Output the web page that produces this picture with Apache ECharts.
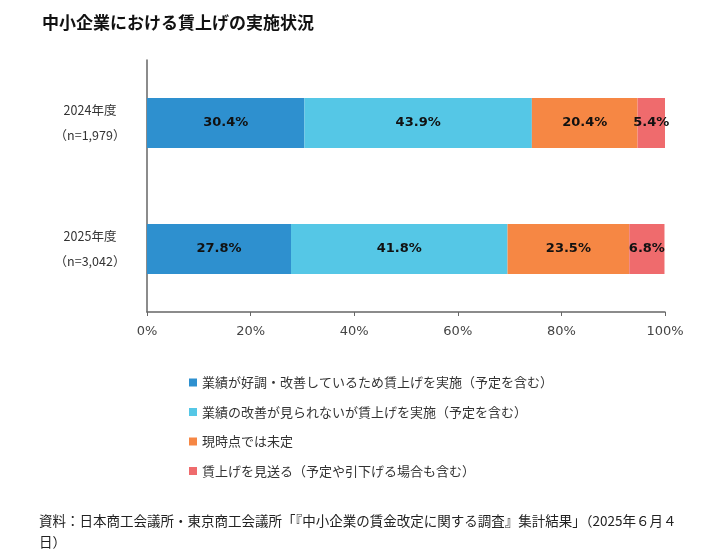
<html>
<head>
<meta charset="utf-8"/>
<title>中小企業における賃上げの実施状況</title>
<script src="https://cdn.jsdelivr.net/npm/echarts@6/dist/echarts.min.js"></script>
<style>
  body { margin: 0; padding: 0; background: #fff; }
  #chart { width: 710px; height: 553px; }
</style>
</head>
<body>
<div id="chart"></div>
<script type="text/javascript">
// 年度（上から順）
const years = ['2024年度\n（n=1,979）', '2025年度\n（n=3,042）'];
const seriesNames = [
  '業績が好調・改善しているため賃上げを実施（予定を含む）',
  '業績の改善が見られないが賃上げを実施（予定を含む）',
  '現時点では未定',
  '賃上げを見送る（予定や引下げる場合も含む）'
];
const goodRaise = [30.4, 27.8];
const noImproveRaise = [43.9, 41.8];
const undecided = [20.4, 23.5];
const skipRaise = [5.4, 6.8];
const xTicks = [0, 20, 40, 60, 80, 100];

const colors = ['#2e90cf', '#55c7e6', '#f68744', '#ef6b6d'];
// 数字はDejaVu、日本語が多い文はNoto CJK
const numFont = '"DejaVu Sans", "Noto Sans CJK JP", sans-serif';
const jpFont = '"Noto Sans CJK JP", sans-serif';

let chart = echarts.init(document.getElementById('chart'));

function barSeries(name, data, color) {
  return {
    name: name,
    type: 'bar',
    stack: 'total',
    barWidth: 50,
    data: data,
    itemStyle: { color: color },
    label: {
      show: true,
      position: 'inside',
      formatter: (p) => p.value.toFixed(1) + '%',
      color: '#111',
      fontSize: 13,
      fontWeight: 'bold',
      fontFamily: numFont
    },
    emphasis: { disabled: true }
  };
}

chart.setOption({
  animation: false,
  color: colors,
  textStyle: { fontFamily: jpFont },
  title: {
    text: '中小企業における賃上げの実施状況',
    left: 37,
    top: 9,
    textStyle: { fontSize: 17, fontWeight: 'bold', color: '#111', fontFamily: jpFont }
  },
  grid: { left: 147, right: 45, top: 60, bottom: 241, containLabel: false },
  xAxis: {
    type: 'value',
    min: xTicks[0],
    max: xTicks[xTicks.length - 1],
    interval: 20,
    axisLine: { show: true, lineStyle: { color: '#666', width: 1.5 } },
    axisTick: { show: true, length: 4, lineStyle: { color: '#666' } },
    splitLine: { show: false },
    axisLabel: {
      formatter: '{value}%',
      color: '#444',
      fontSize: 13,
      margin: 13,
      fontFamily: numFont
    }
  },
  yAxis: {
    type: 'category',
    data: years,
    inverse: true,
    axisLine: { show: true, lineStyle: { color: '#666', width: 1.5 } },
    axisTick: { show: false },
    axisLabel: {
      align: 'center',
      margin: 57,
      color: '#333',
      fontSize: 12.5,
      lineHeight: 25,
      fontFamily: jpFont
    }
  },
  legend: {
    orient: 'vertical',
    left: 184,
    top: 371,
    icon: 'rect',
    itemWidth: 8,
    itemHeight: 8,
    itemGap: 16.5,
    selectedMode: false,
    textStyle: { color: '#333', fontSize: 13, fontFamily: jpFont },
    data: seriesNames
  },
  graphic: [{
    type: 'text',
    left: 39,
    top: 510,
    style: {
      text: '資料：日本商工会議所・東京商工会議所「『中小企業の賃金改定に関する調査』集計結果」（2025年６月４日）',
      width: 664,
      overflow: 'break',
      fill: '#222',
      fontSize: 13.5,
      lineHeight: 21,
      fontFamily: jpFont
    }
  }],
  series: [
    barSeries(seriesNames[0], goodRaise, colors[0]),
    barSeries(seriesNames[1], noImproveRaise, colors[1]),
    barSeries(seriesNames[2], undecided, colors[2]),
    barSeries(seriesNames[3], skipRaise, colors[3])
  ]
});
</script>
</body>
</html>
